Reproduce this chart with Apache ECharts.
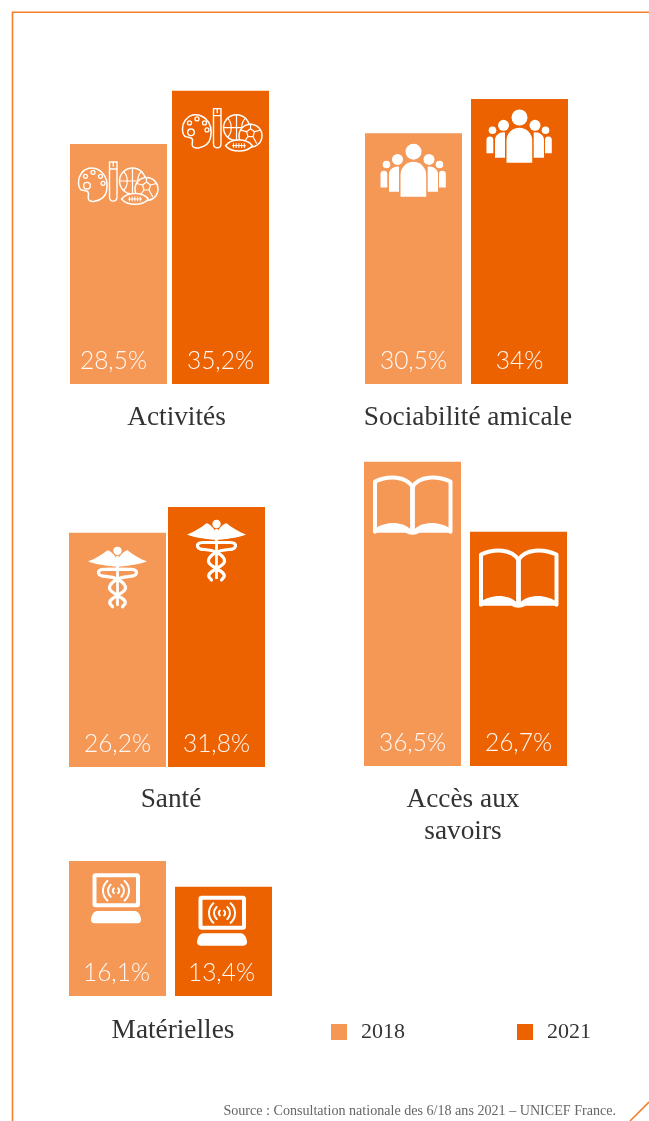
<!DOCTYPE html>
<html>
<head>
<meta charset="utf-8">
<title>Activités, sociabilité, santé, savoirs, matérielles</title>
<script src="https://cdn.jsdelivr.net/npm/echarts@6/dist/echarts.min.js"></script>
<style>
  html, body { margin: 0; padding: 0; background: #fff; }
  #chart { width: 649px; height: 1121px; }
</style>
</head>
<body>
<div id="chart"></div>
<script>
const categories = ['Activités', 'Sociabilité amicale', 'Santé', 'Accès aux\nsavoirs', 'Matérielles'];
const years = ['2018', '2021'];
// printed percentages
const labels2018 = ['28,5%', '30,5%', '26,2%', '36,5%', '16,1%'];
const labels2021 = ['35,2%', '34%', '31,8%', '26,7%', '13,4%'];
// bar lengths, in % on one shared scale
// (the original bars are not all proportional to their printed numbers)
const bars2018 = [28.8, 30.1, 28.1, 36.5, 16.2];
const bars2021 = [35.2, 34.2, 31.2, 28.1, 13.1];

const COLOR_2018 = '#F59755';
const COLOR_2021 = '#EC6200';
const LINE = '#F47F2A';
const SLAB = '"Liberation Serif", serif';

// layout of each small chart: left edge of 1st bar, gap between the bars, baseline
const panels = [
  { left: 70, gap: 5, base: 384, text: [176.5, 418] },
  { left: 365, gap: 9, base: 384, text: [468, 418] },
  { left: 69, gap: 2, base: 767, text: [171, 800] },
  { left: 364, gap: 9, base: 766, text: [463, 816] },
  { left: 69, gap: 9, base: 996, text: [173, 1031] }
];
const BAR_W = 97;
const PLOT_H = 333.33;
const Y_MAX = 40;

// icon shift from the top centre of each bar
const iconShift = [
  [[-2, 0], [0, 0]],
  [[0, 0], [0, 0]],
  [[0, 1], [0, 0]],
  [[0, 0], [0, 3]],
  [[0, 0], [0, -3.5]]
];

// zrender clones shape props, functions don't survive, so keep drawers here by id
const drawers = [];
echarts.graphic.registerShape('iconPath', echarts.graphic.extendShape({
  shape: { id: -1 },
  buildPath(ctx, shape) { if (drawers[shape.id]) drawers[shape.id](ctx); }
}));
const drawerId = draw => drawers.push(draw) - 1;

const WHITE = '#fff';
const solid = draw => ({ type: 'iconPath', shape: { id: drawerId(draw) }, style: { fill: WHITE, stroke: null } });
const outline = (draw, w, fill) => ({
  type: 'iconPath', shape: { id: drawerId(draw) },
  style: { fill: fill || 'none', stroke: WHITE, lineWidth: w, lineCap: 'round', lineJoin: 'round' }
});
const dot = (x, y, r, w, fill) => ({
  type: 'circle', shape: { cx: x, cy: y, r },
  style: fill === undefined && w === undefined
    ? { fill: WHITE }
    : { fill: fill || 'none', stroke: WHITE, lineWidth: w }
});
const archBody = (x0, x1, top, bottom) => solid(ctx => {
  const r = (x1 - x0) / 2;
  ctx.moveTo(x0, bottom);
  ctx.lineTo(x0, top + r);
  ctx.arc(x0 + r, top + r, r, Math.PI, 2 * Math.PI, false);
  ctx.lineTo(x1, bottom);
  ctx.closePath();
});

function activitiesIcon(bg) {
  return [
    outline(ctx => {
      ctx.moveTo(-35.5, 45.7);
      ctx.bezierCurveTo(-32, 47, -28.5, 46, -28, 49);
      ctx.bezierCurveTo(-27.8, 52, -29, 54, -27.8, 55.7);
      ctx.bezierCurveTo(-26.5, 57.6, -24, 57.6, -22, 57.3);
      ctx.bezierCurveTo(-16, 56, -11, 53, -10, 47);
      ctx.bezierCurveTo(-8.5, 40, -9.5, 33, -15, 28);
      ctx.bezierCurveTo(-19, 24.5, -24, 23.5, -28, 24.3);
      ctx.bezierCurveTo(-34, 26, -38, 32, -38, 38);
      ctx.bezierCurveTo(-38, 41, -37.5, 44, -35.5, 45.7);
    }, 1.5),
    dot(-29.5, 41.7, 3.3, 1.4), dot(-31, 32.3, 2, 1.3), dot(-23.5, 28.3, 2, 1.3),
    dot(-16, 32.3, 2, 1.3), dot(-13.5, 39.3, 2, 1.3),
    outline(ctx => {
      ctx.moveTo(-7, 18); ctx.lineTo(0.5, 18); ctx.lineTo(0.5, 53);
      ctx.bezierCurveTo(0.5, 58.5, -7, 58.5, -7, 53); ctx.closePath();
      ctx.moveTo(-7, 25); ctx.lineTo(0.5, 25);
      ctx.moveTo(-3.2, 18); ctx.lineTo(-3.2, 22);
    }, 1.4),
    dot(16, 37, 13, 1.5, bg),
    outline(ctx => {
      ctx.moveTo(16, 24); ctx.lineTo(16, 50);
      ctx.moveTo(3, 37); ctx.lineTo(29, 37);
      ctx.moveTo(7, 27.5); ctx.bezierCurveTo(12, 32, 12, 42, 7, 46.5);
      ctx.moveTo(25, 27.5); ctx.bezierCurveTo(20, 32, 20, 42, 25, 46.5);
    }, 1.2),
    dot(30, 45, 11.5, 1.5, bg),
    outline(ctx => {
      ctx.moveTo(26, 41); ctx.lineTo(30, 38); ctx.lineTo(34, 41); ctx.lineTo(32.5, 46);
      ctx.lineTo(27.5, 46); ctx.closePath();
      ctx.moveTo(30, 38); ctx.lineTo(30, 33.5);
      ctx.moveTo(34, 41); ctx.lineTo(40, 39.5);
      ctx.moveTo(32.5, 46); ctx.lineTo(36, 52.5);
      ctx.moveTo(27.5, 46); ctx.lineTo(23, 52);
      ctx.moveTo(26, 41); ctx.lineTo(20, 39.5);
    }, 1.2),
    outline(ctx => {
      ctx.moveTo(5, 55);
      ctx.bezierCurveTo(11, 47.5, 26, 47.5, 32, 55);
      ctx.bezierCurveTo(26, 62, 11, 62, 5, 55);
      ctx.closePath();
    }, 1.5, bg),
    outline(ctx => {
      ctx.moveTo(12, 55); ctx.lineTo(25, 55);
      for (let x = 13; x <= 24; x += 2.7) { ctx.moveTo(x, 53); ctx.lineTo(x, 57); }
    }, 1)
  ];
}

function peopleIcon() {
  return [
    dot(0, 18.5, 8), dot(-16, 26.3, 5.5), dot(15.5, 26.3, 5.5), dot(-27, 31.3, 3.8), dot(26, 31.3, 3.8),
    archBody(-33, -26.2, 37.5, 54.3), archBody(25.5, 32.3, 37.5, 54.3),
    solid(ctx => {
      ctx.moveTo(-24.5, 58.7); ctx.lineTo(-24.5, 41);
      ctx.bezierCurveTo(-24.5, 36, -19, 32.5, -14.5, 33.5);
      ctx.lineTo(-14.5, 58.7); ctx.closePath();
    }),
    solid(ctx => {
      ctx.moveTo(24.5, 58.7); ctx.lineTo(24.5, 41);
      ctx.bezierCurveTo(24.5, 36, 19, 32.5, 14.2, 33.5);
      ctx.lineTo(14.2, 58.7); ctx.closePath();
    }),
    archBody(-13, 12.7, 28.7, 63.7)
  ];
}

function caduceusIcon() {
  const wing = s => solid(ctx => {
    ctx.moveTo(s * 29.5, 27.5);
    ctx.bezierCurveTo(s * 23, 25.5, s * 16, 21, s * 10, 16.3);
    ctx.bezierCurveTo(s * 7, 16.5, s * 3, 21, s * 0.5, 25);
    ctx.lineTo(s * 0.5, 33);
    ctx.lineTo(s * 10, 32);
    ctx.bezierCurveTo(s * 15, 31, s * 23, 30.5, s * 29.5, 27.5);
    ctx.closePath();
  });
  const snake = s => outline(ctx => {
    ctx.moveTo(s * 10, 35.5);
    ctx.lineTo(s * -14, 35.5);
    ctx.bezierCurveTo(s * -22, 36, s * -20, 42.5, s * -12, 42.5);
    ctx.lineTo(s * -5, 43.5);
    ctx.bezierCurveTo(s * 2, 45, s * 8, 50, s * 8, 54);
    ctx.bezierCurveTo(s * 8, 58, s * 3, 59, s * 0, 62);
    ctx.bezierCurveTo(s * -4, 64, s * -9, 66, s * -7.5, 70);
    ctx.lineTo(s * -5, 73);
  }, 3.2);
  return [
    dot(0, 17, 4.2),
    wing(-1), wing(1),
    { type: 'rect', shape: { x: -1.4, y: 22, width: 2.8, height: 50 }, style: { fill: WHITE } },
    snake(1), snake(-1)
  ];
}

function bookIcon() {
  return [
    outline(ctx => {
      ctx.moveTo(-37.5, 70); ctx.lineTo(-37.5, 19.7);
      ctx.bezierCurveTo(-24, 13.5, -7, 14, 0, 25);
      ctx.bezierCurveTo(7, 14, 24, 13.5, 38, 19.7);
      ctx.lineTo(38, 70);
    }, 4),
    { type: 'rect', shape: { x: -2.4, y: 24, width: 4.8, height: 47 }, style: { fill: WHITE } },
    solid(ctx => {
      ctx.moveTo(-39, 71); ctx.lineTo(-39, 67.5);
      ctx.bezierCurveTo(-28, 60, -12, 58, -1, 68);
      ctx.lineTo(1, 68);
      ctx.bezierCurveTo(12, 58, 28, 60, 39.5, 67.5);
      ctx.lineTo(39.5, 71); ctx.lineTo(7, 71);
      ctx.bezierCurveTo(3, 73.5, -3, 73.5, -7, 71);
      ctx.closePath();
    })
  ];
}

function computerIcon() {
  const c = [-1.5, 29.7];
  const waves = outline(ctx => {
    [3.2, 8, 13].forEach(r => {
      ctx.moveTo(c[0] + r * Math.cos(-0.85), c[1] + r * Math.sin(-0.85));
      ctx.arc(c[0], c[1], r, -0.85, 0.85, false);
      ctx.moveTo(c[0] + r * Math.cos(Math.PI - 0.85), c[1] + r * Math.sin(Math.PI - 0.85));
      ctx.arc(c[0], c[1], r, Math.PI - 0.85, Math.PI + 0.85, false);
    });
  }, 2);
  return [
    { type: 'rect', shape: { x: -23, y: 14.3, width: 43.5, height: 30, r: 1 }, style: { fill: 'none', stroke: WHITE, lineWidth: 4 } },
    waves,
    solid(ctx => {
      ctx.moveTo(-26.5, 59);
      ctx.bezierCurveTo(-26.5, 55, -24, 50, -20, 50);
      ctx.lineTo(17, 50);
      ctx.bezierCurveTo(21, 50, 23.5, 55, 23.5, 59);
      ctx.bezierCurveTo(23.5, 61, 22, 62.3, 20, 62.3);
      ctx.lineTo(-23, 62.3);
      ctx.bezierCurveTo(-25, 62.3, -26.5, 61, -26.5, 59);
      ctx.closePath();
    })
  ];
}

const icons = [activitiesIcon, peopleIcon, caduceusIcon, bookIcon, computerIcon];

const grid = [], xAxis = [], yAxis = [], series = [];

const barLabel = (texts, dx) => ({
  show: true,
  position: 'insideBottom',
  distance: 10,
  offset: [dx || 0, 0],
  color: 'rgba(255,255,255,0.95)',
  fontFamily: 'Lato',
  fontWeight: 300,
  fontSize: 24.5,
  formatter: p => texts[p.dataIndex]
});

panels.forEach((p, i) => {
  grid.push({
    left: p.left - p.gap / 2,
    width: 2 * (BAR_W + p.gap),
    top: p.base - PLOT_H,
    height: PLOT_H
  });
  xAxis.push({ gridIndex: i, type: 'category', data: years, show: false });
  yAxis.push({ gridIndex: i, type: 'value', min: 0, max: Y_MAX, show: false });

  series.push({
    name: '2018', type: 'bar', xAxisIndex: i, yAxisIndex: i, stack: 'p' + i, barWidth: BAR_W,
    data: [bars2018[i], '-'],
    itemStyle: { color: COLOR_2018 },
    label: barLabel([labels2018[i]], i === 0 ? -5 : (i === 4 ? -1 : 0))
  });
  series.push({
    name: '2021', type: 'bar', xAxisIndex: i, yAxisIndex: i, stack: 'p' + i, barWidth: BAR_W,
    data: ['-', bars2021[i]],
    itemStyle: { color: COLOR_2021 },
    label: barLabel([null, labels2021[i]], i === 4 ? -2 : 0)
  });
  series.push({
    type: 'custom', xAxisIndex: i, yAxisIndex: i, z: 5, silent: true, clip: false,
    data: [[0, bars2018[i]], [1, bars2021[i]]],
    renderItem(params, api) {
      const idx = api.value(0);
      const top = api.coord([idx, api.value(1)]);
      const shift = iconShift[i][idx];
      return {
        type: 'group',
        x: top[0] + shift[0],
        y: top[1] + shift[1],
        children: icons[i](idx === 0 ? COLOR_2018 : COLOR_2021)
      };
    }
  });
});

const graphic = [
  { type: 'polyline', silent: true, shape: { points: [[12.5, 1121], [12.5, 12.3], [649, 12.3]] }, style: { fill: 'none', stroke: LINE, lineWidth: 1.6 } },
  { type: 'line', silent: true, shape: { x1: 630, y1: 1121, x2: 649, y2: 1102 }, style: { stroke: LINE, lineWidth: 1.6 } },
  {
    type: 'text', silent: true, right: 33, top: 1104,
    style: { text: 'Source : Consultation nationale des 6/18 ans 2021 – UNICEF France.', font: '14.1px ' + SLAB, fill: '#666' }
  }
];
categories.forEach((c, i) => {
  graphic.push({
    type: 'text', silent: true, x: panels[i].text[0], y: panels[i].text[1],
    style: {
      text: c, align: 'center', verticalAlign: 'middle', lineHeight: 32,
      font: '27.3px ' + SLAB, fill: '#333'
    }
  });
});

const chart = echarts.init(document.getElementById('chart'), null, { renderer: 'canvas' });
chart.setOption({
  animation: false,
  backgroundColor: '#fff',
  legend: {
    data: years,
    left: 326,
    top: 1016,
    icon: 'rect',
    itemWidth: 16,
    itemHeight: 16,
    itemGap: 112,
    selectedMode: false,
    textStyle: { fontFamily: SLAB, fontSize: 22, color: '#333', padding: [0, 0, 0, 9] }
  },
  grid, xAxis, yAxis, series, graphic
});
window.addEventListener('resize', () => chart.resize());
</script>
</body>
</html>
